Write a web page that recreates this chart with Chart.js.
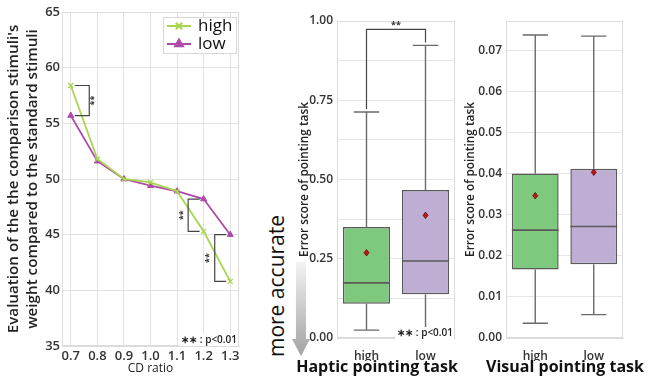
<!DOCTYPE html>
<html>
<head>
<meta charset="utf-8">
<script src="https://cdn.jsdelivr.net/npm/chart.js@4.4.0/dist/chart.umd.min.js"></script>
<style>
  body { margin: 0; background: #fff; width: 652px; height: 376px; position: relative; overflow: hidden; font-family: 'Open Sans', sans-serif; }
  canvas { position: absolute; top: 0; }
  #evalChart { left: 0; }
  #hapticChart { left: 290px; }
  #visualChart { left: 462px; }
  .label { position: absolute; white-space: nowrap; color: #111; }
  #accurate { left: 276px; top: 286px; font-size: 21px; transform: translate(-50%, -50%) rotate(-90deg); }
  #arrow { position: absolute; left: 292px; top: 262px; width: 18px; height: 94px;
    background: linear-gradient(#f3f3f3, #a2a2a2);
    clip-path: polygon(22% 0, 78% 0, 78% 82%, 100% 82%, 50% 100%, 0 82%, 22% 82%); }
  .task { top: 366px; font-size: 16px; font-weight: 700; transform: translate(-50%, -50%); }
  #haptic { left: 377px; }
  #visual { left: 565px; }
</style>
</head>
<body>
<canvas id="evalChart" width="250" height="376"></canvas>
<canvas id="hapticChart" width="172" height="361"></canvas>
<canvas id="visualChart" width="170" height="361"></canvas>
<div class="label" id="accurate">more accurate</div>
<div id="arrow"></div>
<div class="label task" id="haptic">Haptic pointing task</div>
<div class="label task" id="visual">Visual pointing task</div>
<script>
// left chart: weight evaluation vs CD ratio
const cdRatio = [0.7, 0.8, 0.9, 1.0, 1.1, 1.2, 1.3];
const highEval = [58.4, 51.8, 50.0, 49.7, 48.9, 45.3, 40.8];
const lowEval = [55.7, 51.6, 50.0, 49.4, 48.9, 48.2, 45.0];
const sigIndex = [0, 5, 6];

// box plots
const groups = ['high', 'low'];
const hapticMin = [0.025, 0.012];
const hapticQ1 = [0.108, 0.138];
const hapticMedian = [0.174, 0.243];
const hapticQ3 = [0.350, 0.467];
const hapticMax = [0.713, 0.923];
const hapticMean = [0.269, 0.387];

const visualMin = [0.0036, 0.0057];
const visualQ1 = [0.0167, 0.0180];
const visualMedian = [0.0263, 0.0272];
const visualQ3 = [0.0401, 0.0413];
const visualMax = [0.0739, 0.0736];
const visualMean = [0.0347, 0.0404];
const visualTicks = [0, 0.01, 0.02, 0.03, 0.04, 0.05, 0.06, 0.07];

const FONT = "'Open Sans', sans-serif";
Chart.defaults.font.family = FONT;
Chart.defaults.color = '#333';

function frame(chart) {
  const { ctx, chartArea: a } = chart;
  ctx.save();
  ctx.strokeStyle = '#dcdcdc';
  ctx.lineWidth = 1;
  ctx.strokeRect(a.left + 0.5, a.top + 0.5, a.right - a.left - 1, a.bottom - a.top - 1);
  ctx.restore();
}

function pNote(chart, x, y, size) {
  const ctx = chart.ctx;
  ctx.save();
  ctx.font = '600 ' + size + 'px ' + FONT;
  ctx.textAlign = 'right';
  ctx.textBaseline = 'middle';
  const t = '\u2217\u2217 : p<0.01';
  const w = ctx.measureText(t).width;
  ctx.fillStyle = '#fff';
  ctx.fillRect(x - w - 2, y - size / 2 - 1, w + 3, size + 2);
  ctx.fillStyle = '#222';
  ctx.fillText(t, x, y);
  ctx.restore();
}

function starsRotated(ctx, x, y) {
  ctx.save();
  ctx.translate(x, y);
  ctx.rotate(-Math.PI / 2);
  ctx.font = '700 9px ' + FONT;
  ctx.textAlign = 'center';
  ctx.textBaseline = 'middle';
  ctx.fillStyle = '#333';
  ctx.fillText('**', 0, 0);
  ctx.restore();
}

const evalExtras = {
  id: 'evalExtras',
  beforeDatasetsDraw(chart) { frame(chart); },
  afterDraw(chart) {
    const { ctx, scales: { x, y }, chartArea: a } = chart;
    // significance brackets between the two series
    ctx.save();
    ctx.strokeStyle = '#444';
    ctx.lineWidth = 1.2;
    sigIndex.forEach(i => {
      const px = x.getPixelForValue(cdRatio[i]);
      const side = i === 0 ? 1 : -1;
      const vx = px + side * (i === 0 ? 18.5 : 15.5);
      const near = px + side * 4;
      const y1 = y.getPixelForValue(highEval[i]);
      const y2 = y.getPixelForValue(lowEval[i]);
      ctx.beginPath();
      ctx.moveTo(near, y1); ctx.lineTo(vx, y1); ctx.lineTo(vx, y2); ctx.lineTo(near, y2);
      ctx.stroke();
      starsRotated(ctx, vx + side * 5, (y1 + y2) / 2);
    });
    ctx.restore();
    pNote(chart, a.right - 2, a.bottom - 6, 10);

    // legend inside the plot, top right
    const bx = 163, by = 17, bw = 73, bh = 36;
    ctx.save();
    ctx.fillStyle = '#fff';
    ctx.strokeStyle = '#d8d8d8';
    ctx.lineWidth = 1;
    ctx.fillRect(bx, by, bw, bh);
    ctx.strokeRect(bx + 0.5, by + 0.5, bw, bh);
    chart.data.datasets.forEach((ds, k) => {
      const ly = by + 9 + k * 18;
      ctx.strokeStyle = ds.borderColor;
      ctx.fillStyle = ds.borderColor;
      ctx.lineWidth = 2;
      ctx.beginPath(); ctx.moveTo(bx + 4, ly); ctx.lineTo(bx + 28, ly); ctx.stroke();
      Chart.helpers.drawPoint(ctx, { pointStyle: ds.pointStyle, radius: 4.5, rotation: 0, borderWidth: 1.5 }, bx + 16, ly);
      ctx.fillStyle = '#111';
      ctx.font = '17px ' + FONT;
      ctx.textBaseline = 'middle';
      ctx.textAlign = 'left';
      ctx.fillText(ds.label, bx + 35, ly);
    });
    ctx.restore();
  }
};

new Chart(document.getElementById('evalChart'), {
  type: 'line',
  data: {
    datasets: [
      { label: 'high', data: cdRatio.map((c, i) => ({ x: c, y: highEval[i] })), borderColor: '#a7d64e', backgroundColor: '#a7d64e',
        pointStyle: 'crossRot', pointRadius: 3.5, pointBorderWidth: 1.3, borderWidth: 1.8, tension: 0 },
      { label: 'low', data: cdRatio.map((c, i) => ({ x: c, y: lowEval[i] })), borderColor: '#ad4aab', backgroundColor: '#ad4aab',
        pointStyle: 'triangle', pointRadius: 3.5, pointBorderWidth: 1, borderWidth: 1.8, tension: 0 }
    ]
  },
  options: {
    responsive: false,
    animation: false,
    layout: { padding: { top: 12, right: 11, left: 0, bottom: 0 } },
    plugins: { legend: { display: false }, tooltip: { enabled: false } },
    scales: {
      x: {
        type: 'linear', min: 0.667, max: 1.333,
        afterBuildTicks: s => { s.ticks = cdRatio.map(v => ({ value: v })); },
        afterFit: s => { s.height = 30; },
        ticks: { callback: v => v.toFixed(1), font: { size: 13, weight: '600' }, color: '#333', padding: 2, maxRotation: 0 },
        grid: { color: '#e2e2e2', drawTicks: false },
        border: { color: '#dcdcdc' },
        title: { display: true, text: 'CD ratio', font: { size: 12 }, color: '#222', padding: 0 }
      },
      y: {
        min: 35, max: 65,
        afterFit: s => { s.width = 62; },
        ticks: { stepSize: 5, font: { size: 13, weight: '600' }, color: '#333', padding: 2 },
        grid: { color: '#e2e2e2', drawTicks: false },
        border: { color: '#dcdcdc' },
        title: { display: true, text: ["Evaluation of the the comparison stimuli's", 'weight compared to the standard stimuli'],
          font: { size: 15.2, weight: '600', lineHeight: 1.2 }, color: '#222', padding: { top: 5, bottom: 2 } }
      }
    }
  },
  plugins: [evalExtras]
});

const boxExtras = {
  id: 'boxExtras',
  beforeDatasetsDraw(chart, args, o) {
    frame(chart);
    const { ctx, scales: { y } } = chart;
    const bars = chart.getDatasetMeta(0).data;
    ctx.save();
    ctx.strokeStyle = '#6a6a6a';
    ctx.lineWidth = 1.4;
    bars.forEach((b, i) => {
      const cx = b.x, cap = b.width * 0.27;
      const yMax = y.getPixelForValue(o.max[i]), yMin = y.getPixelForValue(o.min[i]);
      const yQ1 = y.getPixelForValue(o.q1[i]), yQ3 = y.getPixelForValue(o.q3[i]);
      ctx.beginPath();
      ctx.moveTo(cx, yQ3); ctx.lineTo(cx, yMax);
      ctx.moveTo(cx - cap, yMax); ctx.lineTo(cx + cap, yMax);
      ctx.moveTo(cx, yQ1); ctx.lineTo(cx, yMin);
      ctx.moveTo(cx - cap, yMin); ctx.lineTo(cx + cap, yMin);
      ctx.stroke();
    });
    ctx.restore();
  },
  afterDatasetsDraw(chart, args, o) {
    const { ctx, scales: { y }, chartArea: a } = chart;
    const bars = chart.getDatasetMeta(0).data;
    ctx.save();
    bars.forEach((b, i) => {
      const half = b.width / 2;
      const ym = y.getPixelForValue(o.median[i]);
      ctx.strokeStyle = '#5a5a5a';
      ctx.lineWidth = 1.6;
      ctx.beginPath(); ctx.moveTo(b.x - half, ym); ctx.lineTo(b.x + half, ym); ctx.stroke();
      const yMean = y.getPixelForValue(o.mean[i]);
      ctx.fillStyle = '#c81414';
      ctx.strokeStyle = '#5a0a0a';
      ctx.lineWidth = 0.8;
      ctx.beginPath();
      ctx.moveTo(b.x, yMean - 3.2); ctx.lineTo(b.x + 2.5, yMean); ctx.lineTo(b.x, yMean + 3.2); ctx.lineTo(b.x - 2.5, yMean);
      ctx.closePath(); ctx.fill(); ctx.stroke();
    });
    if (o.sig) {
      const yA = y.getPixelForValue(o.max[0]) - 3;
      const yB = y.getPixelForValue(o.max[1]) - 3;
      const yTop = Math.min(yA, yB) - 13;
      ctx.strokeStyle = '#444';
      ctx.lineWidth = 1.2;
      ctx.beginPath();
      ctx.moveTo(bars[0].x, yA); ctx.lineTo(bars[0].x, yTop); ctx.lineTo(bars[1].x, yTop); ctx.lineTo(bars[1].x, yB);
      ctx.stroke();
      ctx.fillStyle = '#333';
      ctx.font = '700 9px ' + FONT;
      ctx.textAlign = 'center';
      ctx.textBaseline = 'bottom';
      ctx.fillText('**', (bars[0].x + bars[1].x) / 2, yTop + 1);
      pNote(chart, a.right - 2, a.bottom - 5, 10);
    }
    ctx.restore();
  }
};

function boxChart(id, q1, q3, extras, yOpts, yWidth, padRight) {
  return new Chart(document.getElementById(id), {
    type: 'bar',
    data: {
      labels: groups,
      datasets: [{
        data: groups.map((g, i) => [q1[i], q3[i]]),
        backgroundColor: ['#7fc97f', '#beaed4'],
        borderColor: '#5a5a5a', borderWidth: 1.5, borderSkipped: false,
        barPercentage: 0.8, categoryPercentage: 1
      }]
    },
    options: {
      responsive: false,
      animation: false,
      layout: { padding: { top: 21, right: padRight, left: 0, bottom: 0 } },
      plugins: { legend: { display: false }, tooltip: { enabled: false }, boxExtras: extras },
      scales: {
        x: {
          afterFit: s => { s.height = 23; },
          ticks: { font: { size: 12, weight: '600' }, color: '#333', padding: 3 },
          grid: { display: false },
          border: { color: '#dcdcdc' }
        },
        y: Object.assign({
          afterFit: s => { s.width = yWidth; },
          grid: { color: '#e6e6e6', drawTicks: false },
          border: { color: '#dcdcdc' },
          title: { display: true, text: 'Error score of pointing task', font: { size: 11.8, weight: '600' }, color: '#222', padding: { top: id === 'hapticChart' ? 8 : 2, bottom: 4 } }
        }, yOpts)
      }
    },
    plugins: [boxExtras]
  });
}

boxChart('hapticChart', hapticQ1, hapticQ3,
  { min: hapticMin, q1: hapticQ1, median: hapticMedian, q3: hapticQ3, max: hapticMax, mean: hapticMean, sig: true },
  { min: 0, max: 1,
    ticks: { stepSize: 0.125, font: { size: 12, weight: '600' }, color: '#333', padding: 4,
      callback: v => Math.abs(v * 4 - Math.round(v * 4)) < 1e-6 ? v.toFixed(2) : '' } },
  47, 7);

boxChart('visualChart', visualQ1, visualQ3,
  { min: visualMin, q1: visualQ1, median: visualMedian, q3: visualQ3, max: visualMax, mean: visualMean, sig: false },
  { min: 0, max: 0.0773,
    afterBuildTicks: s => { s.ticks = visualTicks.map(v => ({ value: v })); },
    ticks: { font: { size: 12, weight: '600' }, color: '#333', padding: 4, callback: v => v.toFixed(2) } },
  44, 9);
</script>
</body>
</html>
